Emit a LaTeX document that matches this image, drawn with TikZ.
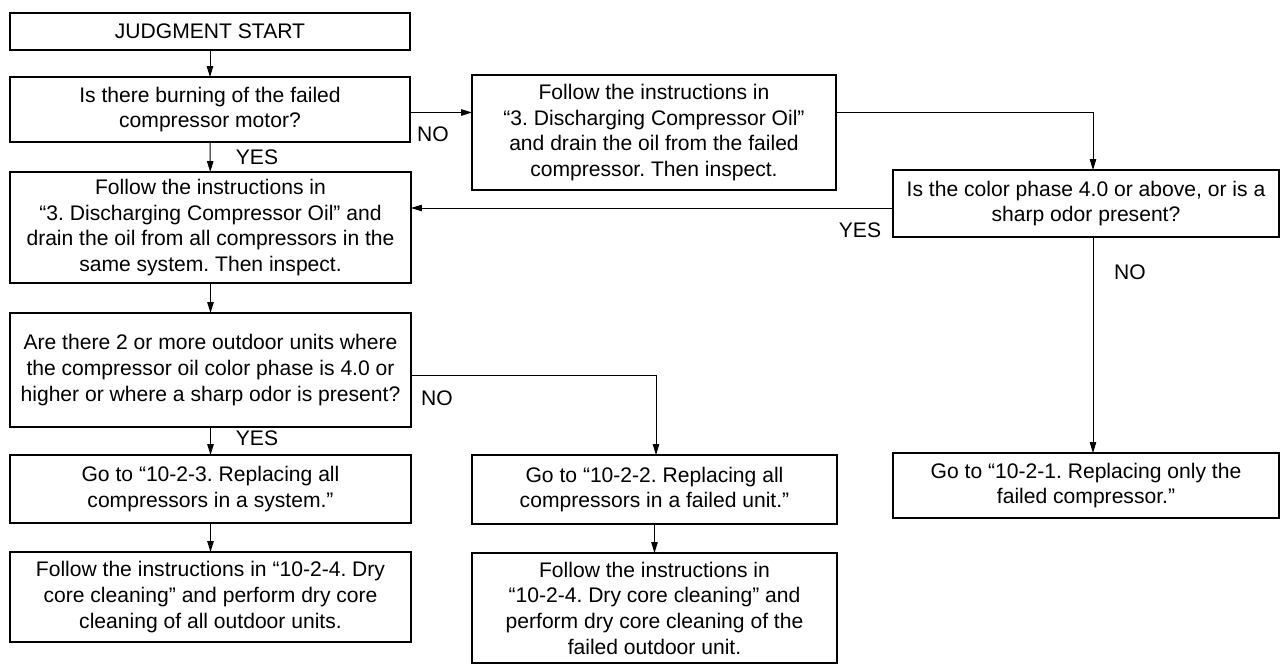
\documentclass[tikz,border=0pt]{standalone}
\usepackage{fontspec}
\setmainfont{Liberation Sans}
\frenchspacing
\usetikzlibrary{arrows.meta,positioning,calc}
\tikzset{
  stepbox/.style={draw=black,line width=1.1pt,fill=white,align=center,inner sep=2pt,outer sep=0pt,font=\fontsize{12pt}{14.6pt}\selectfont},
  arr/.style={-{Triangle[length=2.2mm,width=1.3mm]},draw=black,line width=0.55pt},
  answer/.style={font=\fontsize{12pt}{14.6pt}\selectfont,inner sep=0pt}
}
\begin{document}
\begin{tikzpicture}[x=0.02cm,y=-0.02cm]
  \useasboundingbox (0,0) rectangle (1282,666);
  \node[stepbox,minimum width=8cm,minimum height=0.74cm] (start) at (210,31.5) {JUDGMENT START};
  \node[stepbox,minimum width=8cm,minimum height=1.3cm] (burn) at (210,109.5) {Is there burning of the failed\\compressor motor?};
  \node[stepbox,minimum width=7.28cm,minimum height=2.3cm] (drainone) at (654,132.5) {Follow the instructions in\\“3. Discharging Compressor Oil”\\and drain the oil from the failed\\compressor. Then inspect.};
  \node[stepbox,minimum width=8.02cm,minimum height=2.22cm] (drainall) at (210.5,227.5) {Follow the instructions in\\“3. Discharging Compressor Oil” and\\drain the oil from all compressors in the\\same system. Then inspect.};
  \node[stepbox,minimum width=7.72cm,minimum height=1.34cm] (phase) at (1086,203.5) {Is the color phase 4.0 or above, or is a\\sharp odor present?};
  \node[stepbox,minimum width=8.02cm,minimum height=2.28cm] (units) at (210.5,370) {Are there 2 or more outdoor units where\\the compressor oil color phase is 4.0 or\\higher or where a sharp odor is present?};
  \node[stepbox,minimum width=8.02cm,minimum height=1.36cm] (sysrep) at (210.5,489) {Go to “10-2-3. Replacing all\\compressors in a system.”};
  \node[stepbox,minimum width=7.3cm,minimum height=1.38cm] (unitrep) at (654.5,489.5) {Go to “10-2-2. Replacing all\\compressors in a failed unit.”};
  \node[stepbox,minimum width=7.72cm,minimum height=1.3cm] (onlyrep) at (1086,485.5) {Go to “10-2-1. Replacing only the\\failed compressor.”};
  \node[stepbox,minimum width=8.02cm,minimum height=1.8cm] (sysclean) at (210.5,597) {Follow the instructions in “10-2-4. Dry\\core cleaning” and perform dry core\\cleaning of all outdoor units.};
  \node[stepbox,minimum width=7.3cm,minimum height=2.2cm] (unitclean) at (654.5,608) {Follow the instructions in\\“10-2-4. Dry core cleaning” and\\perform dry core cleaning of the\\failed outdoor unit.};

  \coordinate (burnout) at ([yshift=-0.06cm]burn.east);
  \coordinate (nocol) at ([xshift=0.14cm]phase.south);
  \draw[arr] (start) -- (burn);
  \draw[arr] (burn) -- (drainall);
  \draw[arr] (burnout) -- (burnout -| drainone.west);
  \draw[arr] (burnout -| drainone.east) -| (phase.north -| nocol);
  \draw[arr] ([yshift=-0.09cm]phase.west) -- ([yshift=-0.09cm]phase.west -| drainall.east);
  \draw[arr] (nocol) -- (nocol |- onlyrep.north);
  \draw[arr] (drainall) -- (units);
  \draw[arr] ([yshift=-0.1cm]units.east) -| ([xshift=0.03cm]unitrep.north);
  \draw[arr] (units) -- (sysrep);
  \draw[arr] (sysrep) -- (sysclean);
  \draw[arr] (unitrep) -- (unitclean);

  \node[answer] (yes1) at (257,157) {YES};
  \node[answer] (no1) at (433,134) {NO};
  \node[answer] (yes2) at (860,230) {YES};
  \node[answer] (no2) at (1130,272) {NO};
  \node[answer] (no3) at (437,398) {NO};
  \node[answer] (yes3) at (257,438) {YES};
\end{tikzpicture}
\end{document}
